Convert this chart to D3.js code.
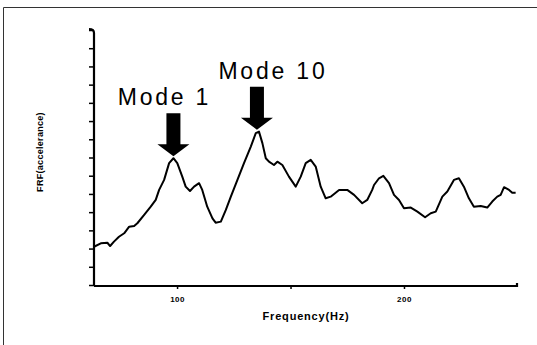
<!DOCTYPE html>
<html>
<head>
<meta charset="utf-8">
<script src="https://cdn.jsdelivr.net/npm/d3@7"></script>
<style>
  body { margin: 0; background: #fff; }
  svg { display: block; }
</style>
</head>
<body>
<div id="chart"></div>
<script>
const width = 537
const height = 345

// frequency (Hz) and FRF magnitude (axis units)
const freq = [63.4, 66.4, 69.3, 70.5, 72.2, 74.4, 76.7, 78.9, 81.1, 82.5, 85.5, 88.4, 90.6, 92.1, 94.3, 96.5, 98.4,
  100.1, 102.3, 103.8, 105.7, 107.5, 109.7, 111.1, 113.3, 115.6, 117.0, 119.3, 121.5, 123.7, 126.6, 129.5, 132.5,
  134.7, 136.1, 137.6, 139.1, 140.5, 142.7, 144.2, 146.4, 149.3, 152.3, 154.5, 156.7, 158.9, 161.1, 163.3, 165.5,
  167.7, 171.4, 175.0, 178.0, 181.6, 183.8, 186.0, 186.8, 189.0, 190.9, 193.4, 195.6, 197.8, 200.0, 203.0, 205.9,
  209.3, 211.8, 214.0, 216.9, 219.1, 222.0, 224.2, 226.4, 228.6, 230.8, 233.8, 236.7, 238.9, 241.1, 242.6, 244.1,
  246.3, 247.7, 249.2]
const frf = [2.10, 2.29, 2.32, 2.14, 2.38, 2.65, 2.84, 3.20, 3.24, 3.39, 3.85, 4.30, 4.67, 5.22, 5.77, 6.69, 6.96,
  6.69, 5.95, 5.40, 5.16, 5.40, 5.59, 5.22, 4.30, 3.66, 3.42, 3.48, 4.12, 4.85, 5.77, 6.69, 7.60,
  8.34, 8.42, 7.79, 6.96, 6.77, 6.59, 6.77, 6.59, 5.95, 5.40, 5.95, 6.69, 6.87, 6.50, 5.40, 4.76,
  4.85, 5.22, 5.22, 4.95, 4.49, 4.67, 5.22, 5.49, 5.86, 5.99, 5.59, 4.95, 4.67, 4.21, 4.25, 4.03,
  3.72, 3.94, 4.03, 4.85, 5.13, 5.77, 5.86, 5.40, 4.76, 4.30, 4.34, 4.25, 4.58, 4.85, 4.95, 5.37,
  5.22, 5.07, 5.07]

const modeNames = ["Mode 1", "Mode 10"]
const modeFreq = [98.4, 135.2]
const modeFrf = [6.96, 8.42]

const xTicks = [100, 150, 200]
const xLabels = ["100", "", "200"]

const data = freq.map((f, i) => ({ f, v: frf[i] }))

const x = d3.scaleLinear().domain([63.4, 249.8]).range([94, 517])
const y = d3.scaleLinear().domain([0, 14]).range([285, 30])

const svg = d3.select("#chart").append("svg")
    .attr("width", width)
    .attr("height", height)
    .style("font-family", "'Liberation Sans', Arial, sans-serif")

// frame lines of the scanned page
svg.append("path")
    .attr("d", `M3.5,${height}V7.5H${width}`)
    .attr("fill", "none")
    .attr("stroke", "#333")
    .attr("stroke-width", 1)

// y axis
const yAxis = svg.append("g")
    .attr("transform", "translate(94,0)")
    .call(d3.axisLeft(y).ticks(14).tickSize(5).tickFormat(""))
yAxis.select(".domain").remove()
yAxis.selectAll(".tick line").attr("stroke", "#000").attr("stroke-width", 1.5)

svg.append("path")
    .attr("d", `M89,${y(14) - 1}Q94,${y(14) - 1} 94,${y(14) + 3}V${y(0) + 1}`)
    .attr("fill", "none")
    .attr("stroke", "#000")
    .attr("stroke-width", 2.2)

// x axis
const xAxis = svg.append("g")
    .attr("transform", `translate(0,${y(0) + 1})`)
    .call(d3.axisBottom(x).tickValues(xTicks).tickSize(3).tickPadding(7)
        .tickFormat((d, i) => xLabels[i]))
xAxis.select(".domain").remove()
xAxis.selectAll(".tick line").attr("stroke", "#000").attr("stroke-width", 1.5)
xAxis.selectAll(".tick text")
    .attr("fill", "#000")
    .style("font-size", "8px")
    .style("font-weight", "bold")
    .style("letter-spacing", "0.5px")

svg.append("path")
    .attr("d", `M94,${y(0) + 1}H${x(249.8)}v-3`)
    .attr("fill", "none")
    .attr("stroke", "#000")
    .attr("stroke-width", 2.2)

// axis titles
svg.append("text")
    .attr("x", 306)
    .attr("y", 320)
    .attr("text-anchor", "middle")
    .style("font-size", "11px")
    .style("font-weight", "bold")
    .style("letter-spacing", "0.8px")
    .text("Frequency(Hz)")

svg.append("text")
    .attr("transform", "translate(43,152) rotate(-90)")
    .attr("text-anchor", "middle")
    .style("font-size", "9px")
    .style("font-weight", "bold")
    .style("letter-spacing", "0.3px")
    .text("FRF(accelerance)")

// FRF curve
const line = d3.line()
    .x(d => x(d.f))
    .y(d => y(d.v))

svg.append("path")
    .datum(data)
    .attr("fill", "none")
    .attr("stroke", "#000")
    .attr("stroke-width", 2)
    .attr("stroke-linejoin", "round")
    .attr("d", line)

// mode arrows and labels
const labelShift = [-9, 16]
const mode = svg.selectAll("g.mode")
    .data(modeNames.map((name, i) => ({ name, f: modeFreq[i], v: modeFrf[i], dx: labelShift[i] })))
    .join("g")
    .attr("class", "mode")
    .attr("transform", d => `translate(${x(d.f)},${y(d.v) - 2})`)

mode.append("path")
    .attr("d", "M0,0L-16,-12H-7V-43H7V-12H16Z")
    .attr("fill", "#000")

mode.append("text")
    .attr("x", d => d.dx)
    .attr("y", -51)
    .attr("text-anchor", "middle")
    .style("font-size", "23px")
    .style("letter-spacing", "2.8px")
    .text(d => d.name)
</script>
</body>
</html>
